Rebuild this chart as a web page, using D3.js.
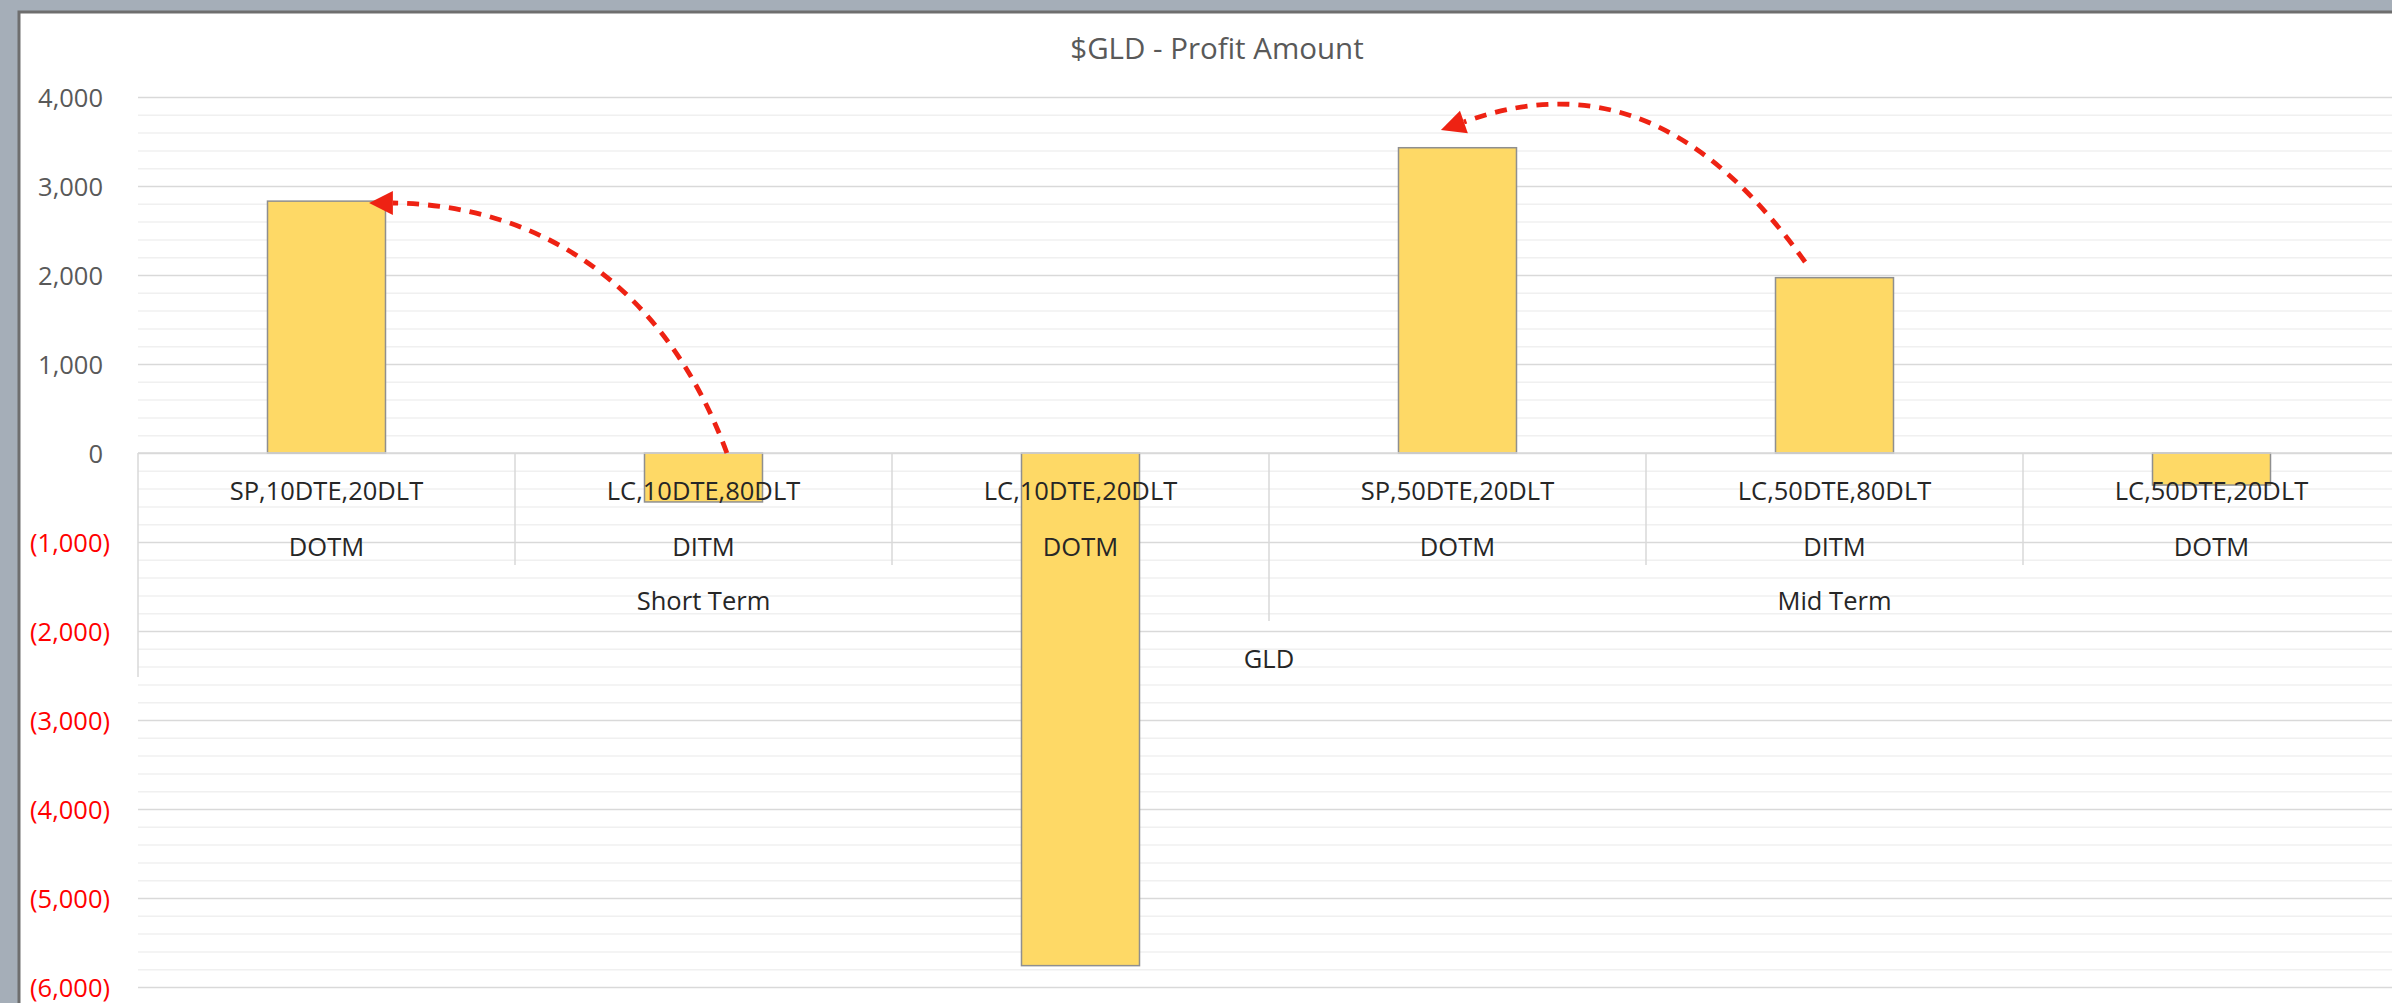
<!DOCTYPE html>
<html>
<head>
<meta charset="utf-8">
<script src="https://cdn.jsdelivr.net/npm/d3@7"></script>
<style>
  html, body { margin: 0; padding: 0; background: #a5aeb8; overflow: hidden; }
  svg { display: block; font-family: "Open Sans", sans-serif; }
</style>
</head>
<body>
<svg id="chart" width="2392" height="1003"></svg>
<script>
// chart data
const chartTitle = "$GLD - Profit Amount";
const strategies = ["SP,10DTE,20DLT", "LC,10DTE,80DLT", "LC,10DTE,20DLT", "SP,50DTE,20DLT", "LC,50DTE,80DLT", "LC,50DTE,20DLT"];
const moneyness = ["DOTM", "DITM", "DOTM", "DOTM", "DITM", "DOTM"];
const terms = ["Short Term", "Short Term", "Short Term", "Mid Term", "Mid Term", "Mid Term"];
const ticker = "GLD";
const profit = [2830, -550, -5760, 3430, 1970, -360];
const yTicks = [-6000, -5000, -4000, -3000, -2000, -1000, 0, 1000, 2000, 3000, 4000];

// annotation arrows, in [category position, value] units
const arrowNotes = [
    { from: [1.562, 0], c1: [1.398, 1888], c2: [1.066, 2787], to: [0.676, 2809], tip: [0.613, 2809] },
    { from: [4.422, 2146], c1: [4.175, 3607], c2: [3.891, 4292], to: [3.517, 3719], tip: [3.456, 3629] }
];

const svg = d3.select("#chart");
const plotLeft = 138, plotRight = 2400, plotTop = 97, plotBottom = 987;

// frame
svg.append("rect").attr("x", 0).attr("y", 0).attr("width", 2392).attr("height", 1003).attr("fill", "#a5aeb8");
svg.append("rect")
    .attr("x", 19).attr("y", 12).attr("width", 2420).attr("height", 1020)
    .attr("fill", "#fff").attr("stroke", "#6e6e6e").attr("stroke-width", 3);

const x = d3.scaleBand().domain(strategies).range([plotLeft, plotRight]).padding(0);
const xPos = d3.scaleLinear().domain([0, strategies.length]).range([plotLeft, plotRight]);
const y = d3.scaleLinear().domain([-6000, 4000]).range([plotBottom, plotTop]);
const bw = x.bandwidth();
const y0 = y(0);

// title
svg.append("text")
    .attr("x", 1217).attr("y", 48.5).attr("dy", "0.357em")
    .attr("text-anchor", "middle")
    .attr("font-size", 29.5).attr("fill", "#595959")
    .text(chartTitle);

// gridlines
const minor = d3.range(-6000, 4001, 200).filter(v => v % 1000 !== 0);
svg.append("g")
    .attr("transform", `translate(${plotLeft},0)`)
    .call(d3.axisLeft(y).tickValues(minor).tickSize(-(plotRight - plotLeft)).tickFormat(""))
    .call(g => g.select(".domain").remove())
    .call(g => g.selectAll("line").attr("stroke", "#f0f0f0").attr("stroke-width", 1.5));
svg.append("g")
    .attr("transform", `translate(${plotLeft},0)`)
    .call(d3.axisLeft(y).tickValues(yTicks).tickSize(-(plotRight - plotLeft)).tickFormat(""))
    .call(g => g.select(".domain").remove())
    .call(g => g.selectAll("line").attr("stroke", "#d9d9d9").attr("stroke-width", 1.5));

// y labels
const fmt = d3.format(",");
svg.append("g")
    .attr("transform", "translate(110,0)")
    .call(d3.axisLeft(y).tickValues(yTicks).tickSize(0).tickPadding(0)
        .tickFormat(v => v < 0 ? `(${fmt(-v)})` : fmt(v)))
    .call(g => g.select(".domain").remove())
    .call(g => g.selectAll("text")
        .attr("font-family", "Open Sans")
        .attr("font-size", 25.5)
        .attr("dy", "0.357em")
        .attr("dx", d => d < 0 ? 0 : -7)
        .attr("fill", d => d < 0 ? "#ff0000" : "#595959"));

// bars
const barW = bw * 0.313;
svg.append("g").selectAll("rect")
    .data(profit)
    .join("rect")
    .attr("x", (d, i) => x(strategies[i]) + (bw - barW) / 2)
    .attr("y", d => y(Math.max(0, d)))
    .attr("width", barW)
    .attr("height", d => Math.abs(y(d) - y0))
    .attr("fill", "#fed966")
    .attr("stroke", "#8f8f8f")
    .attr("stroke-width", 1.5);

// category axis
const axisG = svg.append("g");
axisG.append("line")
    .attr("x1", plotLeft).attr("x2", plotRight).attr("y1", y0).attr("y2", y0)
    .attr("stroke", "#d9d9d9").attr("stroke-width", 1.5);

const termSpans = [];
terms.forEach((t, i) => {
    const last = termSpans[termSpans.length - 1];
    if (last && last.name === t) last.end = i;
    else termSpans.push({ name: t, start: i, end: i });
});

const rowDepth = [112, 168, 224];
strategies.forEach((s, i) => {
    if (i === 0) return;
    const newTerm = terms[i] !== terms[i - 1];
    axisG.append("line")
        .attr("x1", x(s)).attr("x2", x(s))
        .attr("y1", y0).attr("y2", y0 + (newTerm ? rowDepth[1] : rowDepth[0]))
        .attr("stroke", "#d9d9d9").attr("stroke-width", 1.5);
});
[plotLeft, plotRight].forEach(px => {
    axisG.append("line")
        .attr("x1", px).attr("x2", px).attr("y1", y0).attr("y2", y0 + rowDepth[2])
        .attr("stroke", "#d9d9d9").attr("stroke-width", 1.5);
});

const labelStyle = sel => sel
    .attr("text-anchor", "middle")
    .attr("dy", "0.357em")
    .attr("font-size", 25.5)
    .attr("fill", "#262626");

axisG.selectAll(".lvl1").data(strategies).join("text")
    .attr("class", "lvl1")
    .attr("x", d => x(d) + bw / 2).attr("y", y0 + 38)
    .call(labelStyle).text(d => d);
axisG.selectAll(".lvl2").data(moneyness).join("text")
    .attr("class", "lvl2")
    .attr("x", (d, i) => x(strategies[i]) + bw / 2).attr("y", y0 + 94)
    .call(labelStyle).text(d => d);
axisG.selectAll(".lvl3").data(termSpans).join("text")
    .attr("class", "lvl3")
    .attr("x", d => (xPos(d.start) + xPos(d.end + 1)) / 2).attr("y", y0 + 148)
    .call(labelStyle).text(d => d.name);
axisG.append("text")
    .attr("x", (plotLeft + plotRight) / 2).attr("y", y0 + 206)
    .call(labelStyle).text(ticker);

// arrows
const red = "#ee2213";
const pt = p => [xPos(p[0]), y(p[1])];
arrowNotes.forEach(a => {
    const [p0, p1, p2, p3, tip] = [a.from, a.c1, a.c2, a.to, a.tip].map(pt);
    const path = d3.path();
    path.moveTo(...p0);
    path.bezierCurveTo(...p1, ...p2, ...p3);
    svg.append("path")
        .attr("d", path.toString())
        .attr("fill", "none")
        .attr("stroke", red)
        .attr("stroke-width", 4.8)
        .attr("stroke-dasharray", "12 9");
    const dx = tip[0] - p3[0], dy = tip[1] - p3[1];
    const len = Math.hypot(dx, dy);
    const nx = -dy / len * 12, ny = dx / len * 12;
    svg.append("path")
        .attr("d", `M${tip[0]},${tip[1]}L${p3[0] + nx},${p3[1] + ny}L${p3[0] - nx},${p3[1] - ny}Z`)
        .attr("fill", red);
});
</script>
</body>
</html>
